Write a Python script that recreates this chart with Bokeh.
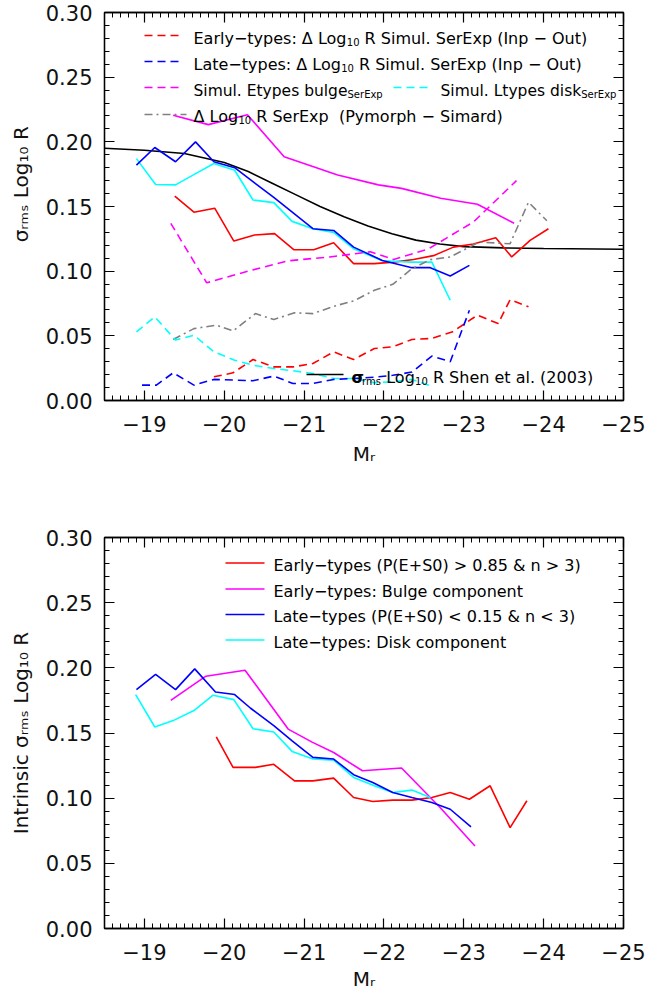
from bokeh.plotting import figure
from bokeh.models import Range1d, FixedTicker, LinearAxis, Label
from bokeh.layouts import column
from bokeh.embed import file_html
from bokeh.resources import INLINE

# ---------------- data ----------------
mag_ticks = [-19, -20, -21, -22, -23, -24, -25]
mag_tick_labels = ["\u221219", "\u221220", "\u221221", "\u221222", "\u221223", "\u221224", "\u221225"]
sig_ticks = [0.0, 0.05, 0.10, 0.15, 0.20, 0.25, 0.30]
sig_tick_labels = ["0.00", "0.05", "0.10", "0.15", "0.20", "0.25", "0.30"]

x_title = "M\u1d63"
y_title_top = "\u00a0" * 7 + "\u03c3\u1d63\u2098\u209b Log\u2081\u2080 R"
y_title_bottom = "Intrinsic \u03c3\u1d63\u2098\u209b Log\u2081\u2080 R"

# top panel
shen_mag = [-18.5, -19.0, -19.5, -20.0, -20.3, -20.6, -20.9, -21.2, -21.5, -21.8, -22.1, -22.4, -22.7, -23.0, -23.5, -24.0, -25.0]
shen_sig = [0.195, 0.1935, 0.191, 0.184, 0.177, 0.168, 0.159, 0.150, 0.142, 0.135, 0.129, 0.124, 0.121, 0.119, 0.118, 0.1175, 0.117]

top_red_mag = [-19.38, -19.62, -19.88, -20.12, -20.38, -20.63, -20.87, -21.12, -21.37, -21.62, -21.88, -22.12, -22.37, -22.62, -22.87, -23.12, -23.40, -23.60, -23.83, -24.06]
top_red_sig = [0.158, 0.1456, 0.1487, 0.1233, 0.128, 0.129, 0.1166, 0.1166, 0.122, 0.1058, 0.1058, 0.107, 0.109, 0.112, 0.1186, 0.121, 0.1258, 0.111, 0.1238, 0.1328]

top_magenta_mag = [-19.36, -19.80, -20.29, -20.75, -21.42, -21.93, -22.22, -22.71, -23.17, -23.63]
top_magenta_sig = [0.2205, 0.2133, 0.221, 0.1885, 0.1744, 0.1667, 0.164, 0.1564, 0.1518, 0.137]

top_blue_mag = [-18.90, -19.13, -19.39, -19.64, -19.87, -20.13, -20.62, -21.11, -21.37, -21.62, -21.98, -22.35, -22.58, -22.83, -23.07]
top_blue_sig = [0.182, 0.1956, 0.1846, 0.200, 0.1846, 0.180, 0.157, 0.1328, 0.1315, 0.1186, 0.1083, 0.1027, 0.1027, 0.0963, 0.1045]

top_cyan_mag = [-18.90, -19.14, -19.39, -19.63, -19.87, -20.13, -20.36, -20.62, -20.85, -21.11, -21.37, -21.62, -21.98, -22.35, -22.60, -22.83]
top_cyan_sig = [0.187, 0.167, 0.1667, 0.175, 0.1833, 0.178, 0.155, 0.153, 0.1385, 0.1328, 0.130, 0.1174, 0.108, 0.107, 0.107, 0.0775]

sim_bulge_mag = [-19.33, -19.78, -20.30, -20.80, -21.32, -21.83, -22.12, -22.55, -23.12, -23.66]
sim_bulge_sig = [0.137, 0.091, 0.100, 0.108, 0.111, 0.115, 0.109, 0.117, 0.138, 0.170]

pym_sim_mag = [-19.36, -19.62, -19.90, -20.11, -20.39, -20.62, -20.88, -21.11, -21.37, -21.62, -21.88, -22.11, -22.35, -22.58, -22.83, -23.19, -23.58, -23.81, -24.04]
pym_sim_sig = [0.0472, 0.0556, 0.0582, 0.0538, 0.0672, 0.0626, 0.0678, 0.0672, 0.0728, 0.077, 0.0852, 0.0898, 0.1019, 0.1089, 0.111, 0.1225, 0.1212, 0.1533, 0.139]

sim_early_mag = [-19.87, -20.11, -20.36, -20.62, -20.86, -21.11, -21.37, -21.62, -21.88, -22.11, -22.35, -22.60, -22.86, -23.17, -23.43, -23.58, -23.81]
sim_early_sig = [0.0183, 0.0214, 0.0317, 0.026, 0.026, 0.0286, 0.0376, 0.0317, 0.0402, 0.0415, 0.0472, 0.048, 0.0531, 0.066, 0.0595, 0.078, 0.0724]

sim_late_mag = [-18.97, -19.15, -19.36, -19.62, -19.87, -20.13, -20.36, -20.62, -20.86, -21.11, -21.37, -21.62, -21.88, -22.11, -22.35, -22.60, -22.83, -23.07]
sim_late_sig = [0.0119, 0.0119, 0.0214, 0.0119, 0.0163, 0.0158, 0.0153, 0.0189, 0.0132, 0.0132, 0.0163, 0.017, 0.018, 0.0195, 0.022, 0.0343, 0.030, 0.0698]

sim_disk_mag = [-18.90, -19.13, -19.39, -19.62, -19.87, -20.13, -20.36, -20.62, -20.86, -21.11, -21.37, -21.62, -21.88, -22.11, -22.35, -22.60]
sim_disk_sig = [0.053, 0.0647, 0.0467, 0.0505, 0.0376, 0.0312, 0.0273, 0.0247, 0.023, 0.0209, 0.017, 0.017, 0.0137, 0.0145, 0.0163, 0.011]

# bottom panel (intrinsic)
int_late_mag = [-18.90, -19.14, -19.39, -19.63, -19.89, -20.13, -20.33, -20.62, -20.85, -21.11, -21.37, -21.62, -21.86, -22.11, -22.35, -22.60, -22.83, -23.09]
int_late_sig = [0.1833, 0.1949, 0.1833, 0.1992, 0.1815, 0.1795, 0.169, 0.1556, 0.144, 0.1313, 0.130, 0.118, 0.112, 0.1044, 0.1005, 0.0967, 0.0915, 0.078]

int_disk_mag = [-18.89, -19.13, -19.36, -19.62, -19.86, -20.12, -20.36, -20.62, -20.85, -21.11, -21.37, -21.62, -21.88, -22.11, -22.35, -22.58]
int_disk_sig = [0.1795, 0.1546, 0.1595, 0.1672, 0.179, 0.1756, 0.1533, 0.1508, 0.1359, 0.130, 0.1292, 0.1159, 0.1095, 0.1044, 0.1062, 0.1005]

int_bulge_mag = [-19.33, -19.77, -20.26, -20.80, -21.10, -21.37, -21.73, -22.22, -22.70, -23.14]
int_bulge_sig = [0.175, 0.1936, 0.1982, 0.153, 0.143, 0.135, 0.121, 0.1231, 0.093, 0.0633]

int_early_mag = [-19.90, -20.11, -20.39, -20.62, -20.88, -21.11, -21.37, -21.62, -21.86, -22.11, -22.35, -22.60, -22.83, -23.07, -23.33, -23.58, -23.79]
int_early_sig = [0.147, 0.1236, 0.1236, 0.126, 0.1133, 0.1133, 0.1154, 0.1005, 0.0974, 0.0985, 0.0985, 0.1005, 0.1044, 0.0992, 0.1095, 0.0774, 0.098]

# ---------------- layout helpers ----------------
FONT = "DejaVu Sans"
RED, BLUE, MAG, CYAN, GRAY = "#FF0000", "#0000FF", "#FF00FF", "#00FFFF", "#808080"
X0, X1 = -18.5, -25.0
FL, FR = 104, 623  # frame edges (page pixels)
LW = 1.6

EM = {' ': .318, '\u00a0': .318, '(': .390, ')': .390, '+': .838, '.': .318, ':': .337, '<': .838,
      '>': .838, '&': .780, '\u0394': .684, '\u2212': .838, '\u03c3': .66,
      'A': .684, 'B': .686, 'C': .698, 'D': .770, 'E': .632, 'F': .575, 'G': .775, 'H': .752,
      'I': .295, 'K': .656, 'L': .557, 'M': .863, 'N': .748, 'O': .787, 'P': .603, 'R': .695,
      'S': .635, 'T': .611, 'a': .613, 'b': .635, 'c': .550, 'd': .635, 'e': .615, 'f': .352,
      'g': .635, 'h': .634, 'i': .278, 'k': .579, 'l': .278, 'm': .974, 'n': .634, 'o': .612,
      'p': .635, 'r': .411, 's': .521, 't': .392, 'u': .634, 'x': .592, 'y': .592}
for d in "0123456789":
    EM[d] = .636


def tw(s, size):
    return sum(EM.get(c, .6) for c in s) * size


def make_fig(height, top, bottom_border, ytitle, xlabel_standoff):
    p = figure(width=647, height=height, output_backend="svg", toolbar_location=None,
               x_range=Range1d(X0, X1), y_range=Range1d(0.0, 0.30),
               min_border_left=FL, min_border_right=647 - FR,
               min_border_top=top, min_border_bottom=bottom_border,
               x_axis_type=None, y_axis_type=None)
    p.background_fill_color = "white"
    p.border_fill_color = "white"
    p.outline_line_color = "black"
    p.outline_line_width = 1.3
    p.grid.visible = False
    xminor = [round(X0 - 0.1 * k, 2) for k in range(66)]
    yminor = [round(0.01 * k, 2) for k in range(31)]
    xt = FixedTicker(ticks=mag_ticks, minor_ticks=xminor)
    yt = FixedTicker(ticks=sig_ticks, minor_ticks=yminor)
    axes = []
    for side in ("below", "above"):
        ax = LinearAxis(ticker=xt)
        if side == "below":
            ax.major_label_overrides = dict(zip(mag_ticks, mag_tick_labels))
            ax.major_label_text_font_size = "21px"
            ax.major_label_text_color = "#111111"
            ax.major_label_standoff = 15
            ax.axis_label = x_title
            ax.axis_label_standoff = xlabel_standoff
        else:
            ax.major_label_text_font_size = "1px"
            ax.major_label_text_color = None
            ax.major_label_standoff = 0
        p.add_layout(ax, side)
        axes.append(ax)
    for side in ("left", "right"):
        ax = LinearAxis(ticker=yt)
        if side == "left":
            ax.major_label_overrides = dict(zip(sig_ticks, sig_tick_labels))
            ax.major_label_text_font_size = "21px"
            ax.major_label_text_color = "#111111"
            ax.major_label_standoff = 12
            ax.axis_label = ytitle
            ax.axis_label_standoff = 10
        else:
            ax.major_label_text_font_size = "1px"
            ax.major_label_text_color = None
            ax.major_label_standoff = 0
        p.add_layout(ax, side)
        axes.append(ax)
    for ax in axes:
        ax.major_label_text_font = FONT
        ax.axis_label_text_font = FONT
        ax.axis_label_text_font_size = "20px"
        ax.axis_label_text_font_style = "normal"
        ax.axis_label_text_color = "#111111"
        ax.axis_line_color = "black"
        ax.axis_line_width = 1.3
        ax.major_tick_in = 10
        ax.major_tick_out = 0
        ax.minor_tick_in = 5
        ax.minor_tick_out = 0
        ax.major_tick_line_width = 1.2
        ax.minor_tick_line_width = 1.0
    return p


class Geo:
    """page pixel -> data coordinates of a panel"""
    def __init__(self, top, bottom):
        self.top, self.bottom = top, bottom

    def x(self, px):
        return X0 + (px - FL) * (X1 - X0) / (FR - FL)

    def y(self, py):
        return 0.30 * (self.bottom - py) / (self.bottom - self.top)


def pieces(p, g, items, px0, py_base, color="black"):
    """items: (text, size, shift, bold); leading blanks become offsets"""
    cur = px0
    for text, size, shift, bold in items:
        stripped = text.lstrip(" ")
        cur += tw(text[:len(text) - len(stripped)], size)
        lab = Label(x=g.x(cur), y=g.y(py_base + shift), text=stripped)
        cur += tw(stripped, size)
        lab.text_font = FONT
        lab.text_font_size = f"{size}px"
        lab.text_color = color
        lab.text_baseline = "alphabetic"
        lab.text_align = "left"
        if bold:
            lab.text_font_style = "bold"
        p.add_layout(lab)


def sample(p, g, px_a, px_b, py, color, dash):
    p.line([g.x(px_a), g.x(px_b)], [g.y(py), g.y(py)], line_color=color, line_width=LW, line_dash=dash)


DASH = "8 5"
DASHDOT = "8 4 2 4"
LS, SS, SH = 16, 10, 3.5

# ---------------- top panel ----------------
p1 = make_fig(470, 12, 70, y_title_top, 7)
g1 = Geo(12, 400)

p1.line(shen_mag, shen_sig, line_color="black", line_width=LW)
p1.line(top_magenta_mag, top_magenta_sig, line_color=MAG, line_width=LW)
p1.line(top_red_mag, top_red_sig, line_color=RED, line_width=LW)
p1.line(top_cyan_mag, top_cyan_sig, line_color=CYAN, line_width=LW)
p1.line(top_blue_mag, top_blue_sig, line_color=BLUE, line_width=LW)
p1.line(sim_bulge_mag, sim_bulge_sig, line_color=MAG, line_width=LW, line_dash=DASH)
p1.line(pym_sim_mag, pym_sim_sig, line_color=GRAY, line_width=LW, line_dash=DASHDOT)
p1.line(sim_early_mag, sim_early_sig, line_color=RED, line_width=LW, line_dash=DASH)
p1.line(sim_disk_mag, sim_disk_sig, line_color=CYAN, line_width=LW, line_dash=DASH)
p1.line(sim_late_mag, sim_late_sig, line_color=BLUE, line_width=LW, line_dash=DASH)

rows = [38, 64, 90, 116]
sample(p1, g1, 144, 180, rows[0] - 3, RED, DASH)
pieces(p1, g1, [("Early\u2212types: \u0394 Log", LS, 0, False), ("10", SS, SH, False),
                (" R Simul. SerExp (Inp \u2212 Out)", LS, 0, False)], 193, rows[0])
sample(p1, g1, 144, 180, rows[1] - 3, BLUE, DASH)
pieces(p1, g1, [("Late\u2212types: \u0394 Log", LS, 0, False), ("10", SS, SH, False),
                (" R Simul. SerExp (Inp \u2212 Out)", LS, 0, False)], 193, rows[1])
sample(p1, g1, 144, 180, rows[2] - 3, MAG, DASH)
pieces(p1, g1, [("Simul. Etypes bulge", 15.5, 0, False), ("SerExp", SS, SH, False)], 193, rows[2])
sample(p1, g1, 393, 430, rows[2] - 3, CYAN, DASH)
pieces(p1, g1, [("Simul. Ltypes disk", 15.5, 0, False), ("SerExp", SS, SH, False)], 440, rows[2])
sample(p1, g1, 144, 186, rows[3] - 2, GRAY, DASHDOT)
pieces(p1, g1, [("\u0394 Log", LS, 0, False), ("10", SS, SH, False),
                (" R SerExp\u00a0 (Pymorph \u2212 Simard)", LS, 0, False)], 193, rows[3])

sample(p1, g1, 306, 343, 374, "black", "solid")
pieces(p1, g1, [("\u03c3", LS, 0, True), ("rms", SS, SH, False), (" Log", LS, 0, False),
                ("10", SS, SH, False), (" R Shen et al. (2003)", LS, 0, False)], 351, 377)

# ---------------- bottom panel ----------------
p2 = make_fig(525, 67, 67, y_title_bottom, 4)
g2 = Geo(537, 928)

p2.line(int_early_mag, int_early_sig, line_color=RED, line_width=LW)
p2.line(int_bulge_mag, int_bulge_sig, line_color=MAG, line_width=LW)
p2.line(int_disk_mag, int_disk_sig, line_color=CYAN, line_width=LW)
p2.line(int_late_mag, int_late_sig, line_color=BLUE, line_width=LW)

brows = [564.5, 590.5, 616, 641.5]
bl = [("Early\u2212types (P(E+S0) > 0.85 & n > 3)", RED),
      ("Early\u2212types: Bulge component", MAG),
      ("Late\u2212types (P(E+S0) < 0.15 & n < 3)", BLUE),
      ("Late\u2212types: Disk component", CYAN)]
for (txt, col), yb in zip(bl, brows):
    sample(p2, g2, 225, 264, yb - 2, col, "solid")
    pieces(p2, g2, [(txt, LS, 0, False)], 273, yb)

layout = column(p1, p2, spacing=0)
open("out.html", "w").write(file_html(layout, INLINE))
